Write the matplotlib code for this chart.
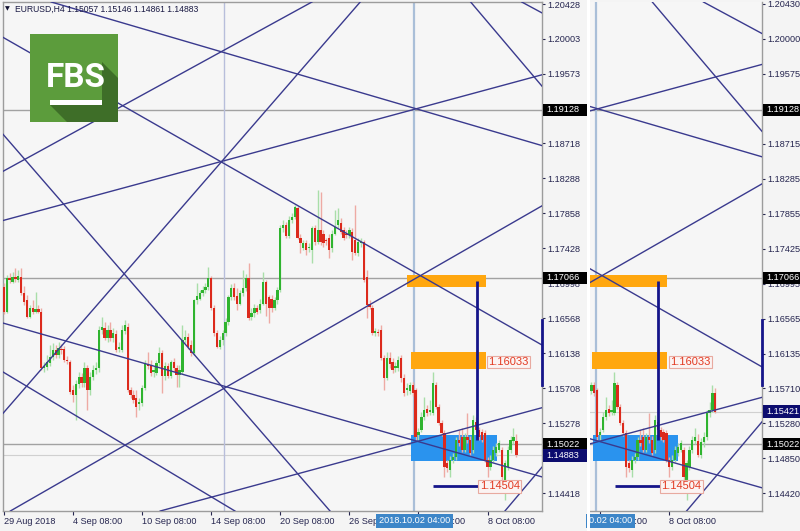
import matplotlib
matplotlib.use("Agg")
import matplotlib.pyplot as plt
import matplotlib.transforms as mtrans
from matplotlib.patches import Rectangle, Polygon
import numpy as np

plt.rcParams["font.family"] = ["Liberation Sans", "DejaVu Sans"]

# ---------------- data (EURUSD H4) ----------------
opens = [
1.1695, 1.1664, 1.1706, 1.1702, 1.1707, 1.1704, 1.1707, 1.1688, 1.1679, 1.1659,
1.1669, 1.1665, 1.1668, 1.1665, 1.1596, 1.1597, 1.1602, 1.1609, 1.1618, 1.1612,
1.1619, 1.1619, 1.1606, 1.1603, 1.1569, 1.1562, 1.1576, 1.1585, 1.1577, 1.1596,
1.1569, 1.1585, 1.1593, 1.1596, 1.1642, 1.1645, 1.1633, 1.1642, 1.1633, 1.1637,
1.1619, 1.1618, 1.1641, 1.1646, 1.1569, 1.1562, 1.1559, 1.1551, 1.1553, 1.1571,
1.1601, 1.1600, 1.1591, 1.1590, 1.1602, 1.1614, 1.1586, 1.1598, 1.1586, 1.1603,
1.1596, 1.1587, 1.1591, 1.1630, 1.1634, 1.1624, 1.1614, 1.1679, 1.1681, 1.1688,
1.1691, 1.1695, 1.1706, 1.1670, 1.1639, 1.1622, 1.1630, 1.1639, 1.1652, 1.1683,
1.1694, 1.1684, 1.1675, 1.1688, 1.1694, 1.1706, 1.1658, 1.1663, 1.1669, 1.1667,
1.1675, 1.1701, 1.1683, 1.1681, 1.1669, 1.1679, 1.1691, 1.1768, 1.1771, 1.1758,
1.1778, 1.1781, 1.1792, 1.1756, 1.1743, 1.1749, 1.1743, 1.1741, 1.1768, 1.1750,
1.1765, 1.1761, 1.1753, 1.1756, 1.1743, 1.1761, 1.1771, 1.1774, 1.1765, 1.1761,
1.1759, 1.1763, 1.1753, 1.1737, 1.1749, 1.1750, 1.1707, 1.1675, 1.1670, 1.1639,
1.1640, 1.1642, 1.1608, 1.1583, 1.1608, 1.1603, 1.1596, 1.1596, 1.1608, 1.1583,
1.1569, 1.1567, 1.1575, 1.1569, 1.1513, 1.1520, 1.1536, 1.1545, 1.1542, 1.1541,
1.1575, 1.1548, 1.1528, 1.1516, 1.1479, 1.1471, 1.1483, 1.1486, 1.1507, 1.1511,
1.1495, 1.1511, 1.1507, 1.1495, 1.1530, 1.1520, 1.1517, 1.1516, 1.1483, 1.1474,
1.1483, 1.1491, 1.1495, 1.1495, 1.1458, 1.1474, 1.1495, 1.1506, 1.15057, 1.1489,
1.1505, 1.1511, 1.1541, 1.1544, 1.1565,
]
highs = [
1.1700, 1.1710, 1.1712, 1.1714, 1.1719, 1.1716, 1.1719, 1.1697, 1.1685, 1.1673,
1.1679, 1.1689, 1.1673, 1.1669, 1.1603, 1.1612, 1.1624, 1.1627, 1.1624, 1.1628,
1.1625, 1.1623, 1.1610, 1.1606, 1.1575, 1.1581, 1.1591, 1.1590, 1.1603, 1.1600,
1.1591, 1.1600, 1.1603, 1.1647, 1.1658, 1.1652, 1.1649, 1.1652, 1.1645, 1.1642,
1.1628, 1.1649, 1.1655, 1.1651, 1.1573, 1.1569, 1.1569, 1.1559, 1.1575, 1.1606,
1.1615, 1.1606, 1.1598, 1.1606, 1.1622, 1.1618, 1.1603, 1.1602, 1.1606, 1.1608,
1.1600, 1.1600, 1.1649, 1.1642, 1.1639, 1.1630, 1.1681, 1.1700, 1.1691, 1.1696,
1.1700, 1.1720, 1.1709, 1.1673, 1.1642, 1.1635, 1.1642, 1.1657, 1.1686, 1.1699,
1.1700, 1.1694, 1.1691, 1.1716, 1.1711, 1.1725, 1.1669, 1.1674, 1.1673, 1.1681,
1.1714, 1.1704, 1.1686, 1.1685, 1.1683, 1.1695, 1.1771, 1.1778, 1.1775, 1.1782,
1.1786, 1.1796, 1.1795, 1.1760, 1.1753, 1.1753, 1.1749, 1.1770, 1.1771, 1.1815,
1.1812, 1.1765, 1.1756, 1.1760, 1.1765, 1.1790, 1.1792, 1.1780, 1.1769, 1.1765,
1.1769, 1.1768, 1.1796, 1.1755, 1.1755, 1.1753, 1.1716, 1.1679, 1.1673, 1.1645,
1.1644, 1.1649, 1.1612, 1.1615, 1.1615, 1.1608, 1.1603, 1.1610, 1.1612, 1.1588,
1.1577, 1.1578, 1.1578, 1.1571, 1.1522, 1.1542, 1.1560, 1.1550, 1.1556, 1.1591,
1.1578, 1.1551, 1.1532, 1.1520, 1.1483, 1.1488, 1.1491, 1.1511, 1.1520, 1.1522,
1.1516, 1.1541, 1.1512, 1.1538, 1.1535, 1.1523, 1.1521, 1.1520, 1.1486, 1.1489,
1.1500, 1.1504, 1.1507, 1.1499, 1.1483, 1.1500, 1.1512, 1.1522, 1.15146, 1.1510,
1.1517, 1.1544, 1.1554, 1.1575, 1.1571,
]
lows = [
1.1662, 1.1663, 1.1700, 1.1700, 1.1701, 1.1701, 1.1685, 1.1673, 1.1657, 1.1657,
1.1662, 1.1663, 1.1663, 1.1593, 1.1591, 1.1593, 1.1598, 1.1606, 1.1608, 1.1608,
1.1613, 1.1603, 1.1601, 1.1564, 1.1554, 1.1532, 1.1571, 1.1573, 1.1573, 1.1544,
1.1562, 1.1581, 1.1588, 1.1591, 1.1637, 1.1630, 1.1628, 1.1629, 1.1628, 1.1615,
1.1615, 1.1615, 1.1637, 1.1566, 1.1559, 1.1553, 1.1536, 1.1544, 1.1549, 1.1569,
1.1595, 1.1586, 1.1585, 1.1587, 1.1598, 1.1565, 1.1581, 1.1583, 1.1583, 1.1591,
1.1572, 1.1573, 1.1588, 1.1627, 1.1619, 1.1610, 1.1612, 1.1674, 1.1679, 1.1684,
1.1688, 1.1691, 1.1667, 1.1635, 1.1620, 1.1619, 1.1624, 1.1635, 1.1649, 1.1679,
1.1679, 1.1667, 1.1673, 1.1684, 1.1690, 1.1655, 1.1655, 1.1659, 1.1662, 1.1663,
1.1673, 1.1660, 1.1651, 1.1665, 1.1667, 1.1675, 1.1689, 1.1763, 1.1755, 1.1755,
1.1774, 1.1779, 1.1754, 1.1737, 1.1741, 1.1735, 1.1738, 1.1725, 1.1747, 1.1748,
1.1747, 1.1745, 1.1747, 1.1731, 1.1738, 1.1759, 1.1768, 1.1760, 1.1753, 1.1755,
1.1755, 1.1728, 1.1735, 1.1733, 1.1745, 1.1701, 1.1657, 1.1668, 1.1636, 1.1635,
1.1635, 1.1606, 1.1569, 1.1581, 1.1596, 1.1590, 1.1591, 1.1592, 1.1578, 1.1561,
1.1562, 1.1564, 1.1561, 1.1507, 1.1507, 1.1517, 1.1532, 1.1537, 1.1538, 1.1538,
1.1545, 1.1526, 1.1512, 1.1462, 1.1468, 1.1462, 1.1479, 1.1483, 1.1500, 1.1493,
1.1493, 1.1504, 1.1489, 1.1491, 1.1517, 1.1507, 1.1505, 1.1480, 1.1462, 1.1471,
1.1480, 1.1488, 1.1493, 1.1458, 1.1434, 1.1471, 1.1491, 1.1502, 1.14861, 1.1485,
1.1499, 1.1507, 1.1535, 1.1542, 1.1541,
]
closes = [
1.1664, 1.1706, 1.1704, 1.1707, 1.1705, 1.1709, 1.1688, 1.1677, 1.1659, 1.1669,
1.1664, 1.1668, 1.1665, 1.1596, 1.1598, 1.1603, 1.1609, 1.1618, 1.1612, 1.1620,
1.1618, 1.1606, 1.1604, 1.1566, 1.1562, 1.1576, 1.1585, 1.1577, 1.1596, 1.1569,
1.1585, 1.1593, 1.1596, 1.1642, 1.1646, 1.1633, 1.1642, 1.1633, 1.1639, 1.1618,
1.1622, 1.1642, 1.1649, 1.1569, 1.1562, 1.1556, 1.1548, 1.1554, 1.1571, 1.1602,
1.1598, 1.1590, 1.1593, 1.1602, 1.1614, 1.1586, 1.1598, 1.1586, 1.1603, 1.1596,
1.1587, 1.1593, 1.1630, 1.1634, 1.1622, 1.1614, 1.1679, 1.1684, 1.1688, 1.1691,
1.1695, 1.1706, 1.1669, 1.1639, 1.1622, 1.1630, 1.1639, 1.1652, 1.1683, 1.1694,
1.1683, 1.1675, 1.1688, 1.1694, 1.1706, 1.1657, 1.1663, 1.1669, 1.1665, 1.1675,
1.1701, 1.1675, 1.1670, 1.1669, 1.1679, 1.1691, 1.1768, 1.1771, 1.1758, 1.1778,
1.1781, 1.1794, 1.1756, 1.1749, 1.1749, 1.1741, 1.1744, 1.1768, 1.1750, 1.1765,
1.1750, 1.1749, 1.1752, 1.1741, 1.1761, 1.1769, 1.1778, 1.1763, 1.1756, 1.1759,
1.1765, 1.1738, 1.1737, 1.1750, 1.1750, 1.1704, 1.1673, 1.1671, 1.1639, 1.1641,
1.1639, 1.1608, 1.1583, 1.1608, 1.1601, 1.1593, 1.1598, 1.1606, 1.1583, 1.1565,
1.1571, 1.1575, 1.1565, 1.1511, 1.1517, 1.1536, 1.1544, 1.1541, 1.1544, 1.1577,
1.1548, 1.1528, 1.1516, 1.1474, 1.1473, 1.1483, 1.1486, 1.1507, 1.1504, 1.1495,
1.1511, 1.1507, 1.1491, 1.1532, 1.1520, 1.1511, 1.1507, 1.1483, 1.1474, 1.1483,
1.1495, 1.1499, 1.1504, 1.1462, 1.1479, 1.1495, 1.1507, 1.1511, 1.14883, 1.1505,
1.1511, 1.1541, 1.1544, 1.1565, 1.15421,
]
n_left = 179          # candles visible in the left (earlier) snapshot

left_ticks = [1.20428, 1.20003, 1.19573, 1.19143, 1.18718, 1.18288, 1.17858, 1.17428,
              1.16998, 1.16568, 1.16138, 1.15708, 1.15278, 1.14848, 1.14418]
right_ticks = [1.20430, 1.20000, 1.19575, 1.19145, 1.18715, 1.18285, 1.17855, 1.17425,
               1.16995, 1.16565, 1.16135, 1.15710, 1.15280, 1.14850, 1.14420]
date_idx = [0, 24, 48, 72, 96, 120, 144, 168]
date_labels = ["29 Aug 2018", "4 Sep 08:00", "10 Sep 08:00", "14 Sep 08:00",
               "20 Sep 08:00", "26 Sep 08:00", "2 Oct 08:00", "8 Oct 08:00"]

h_levels = [1.19128, 1.17066, 1.15022]
bid_left, bid_right = 1.14883, 1.15421
header = "EURUSD,H4 1.15057 1.15146 1.14861 1.14883"

# Gann / trend lines: two anchor points (bar index, price)
gann_lines = [
    ((-1.3, 1.2004), (186.9, 1.1624)),
    ((-1.3, 1.1652), (186.9, 1.1462)),
    ((-1.3, 1.1593), (80.3, 1.1420)),
    ((2.2, 1.1420), (186.9, 1.1795)),
    ((-1.3, 1.1887), (113.3, 1.1420)),
    ((-1.3, 1.1536), (124.4, 1.2048)),
    ((54.2, 1.1420), (186.9, 1.1547)),
    ((174.0, 1.1420), (186.9, 1.1474)),
    ((17.8, 1.2044), (186.9, 1.1869)),
    ((-1.3, 1.1776), (186.9, 1.1956)),
    ((161.5, 1.2048), (186.9, 1.1942)),
    ((178.5, 1.2048), (186.9, 1.2032)),
    ((25.8, 1.1888), (68.1, 1.1970)),
]
orange_boxes = [(140.1, 167.3, 1.1695, 1.1710), (141.3, 167.3, 1.1595, 1.1615)]
blue_box = (141.4, 171.1, 1.1481, 1.1513)
target_v = (164.2, 1.1703, 1.1507)
low_line = (149.1, 164.8, 1.14504)
labels_red = [(168.3, 1.16033, "1.16033"), (165.3, 1.14504, "1.14504")]
vlines_idx = [76.6]
cross_idx = 142.6
edge_seg = (1.1575, 1.1655)

# ---------------- figure ----------------
W, H = 800, 531
fig = plt.figure(figsize=(W / 100, H / 100), dpi=100, facecolor="#f4f4f4")
fx = lambda px: px / W
fy = lambda py: 1 - py / H

YLIM = (1.14201, 1.20454)
PX = (YLIM[1] - YLIM[0]) / 509.0          # price per pixel
axL = fig.add_axes([fx(3), fy(511), fx(539), 509 / H])
axR = fig.add_axes([fx(590), fy(511), fx(172), 509 / H])
fig.patches.append(Rectangle((fx(587), 0), fx(3), 1, transform=fig.transFigure,
                             fc="white", ec="none", zorder=0))

BULL, BEAR = "#2fb42f", "#dc2a1c"
BULL_W, BEAR_W = "#a9dea9", "#eeaaa4"
LINE = "#3a3a8e"
TXT = "#262650"
FS = 6.6

o = np.array(opens); h = np.array(highs); l = np.array(lows); c = np.array(closes)


def draw(ax, nbars, xlim, ticks, date_sel, bid):
    ax.set_facecolor("#f6f6f6")
    ax.set_xlim(*xlim)
    ax.set_ylim(*YLIM)
    idx = np.arange(nbars)
    up = c[:nbars] >= o[:nbars]
    ax.vlines(idx, l[:nbars], h[:nbars], colors=np.where(up, BULL_W, BEAR_W), lw=1, zorder=4)
    bottoms = np.minimum(o[:nbars], c[:nbars])
    heights = np.maximum(np.abs(c[:nbars] - o[:nbars]), 0.00008)
    ax.bar(idx, heights, bottom=bottoms, width=0.8, color=np.where(up, BULL, BEAR),
           lw=0, zorder=5)
    for lv in h_levels:
        ax.axhline(lv, color="#a2a2a2", lw=1, zorder=2)
    ax.axhline(bid, color="#d0d0d0", lw=0.8, zorder=2)
    for vx in vlines_idx:
        ax.axvline(vx, color="#b8bedb", lw=1, zorder=2)
    ax.axvline(cross_idx, color="#aabfd8", lw=1.6, zorder=2)
    for p1, p2 in gann_lines:
        ax.axline(p1, p2, color=LINE, lw=1, zorder=6)
    for x0, x1, y0, y1 in orange_boxes:
        ax.add_patch(Rectangle((x0, y0), x1 - x0, y1 - y0, fc="#ffa70f", ec="none", zorder=3))
    bx0, bx1, by0, by1 = blue_box
    ax.add_patch(Rectangle((bx0, by0), bx1 - bx0, by1 - by0, fc="#2a93ee", ec="none", zorder=3))
    ax.vlines(target_v[0], target_v[2], target_v[1], color="#15158a", lw=2, zorder=7)
    ax.hlines(low_line[2], low_line[0], low_line[1], color="#15158a", lw=2, zorder=7)
    for xi, pr, t in labels_red:
        ax.text(xi, pr, t, fontsize=8, color="#e23a22", ha="left", va="center", zorder=8,
                bbox=dict(boxstyle="square,pad=0.12", fc="#fbf3f2", ec="#e8aaa0", lw=0.8))
    trY = mtrans.blended_transform_factory(ax.transAxes, ax.transData)
    ax.plot([1.0, 1.0], edge_seg, color="#15158a", lw=2, transform=trY, zorder=9, clip_on=False)
    # axes
    ax.yaxis.tick_right()
    ax.set_yticks(ticks)
    ax.set_yticklabels([f"{t:.5f}" for t in ticks])
    ax.tick_params(axis="y", length=2.5, pad=1.5, labelsize=FS, colors=TXT, direction="out")
    ax.set_xticks([date_idx[k] for k in date_sel])
    ax.set_xticklabels([date_labels[k] for k in date_sel], ha="left")
    ax.tick_params(axis="x", length=3, pad=1.5, labelsize=FS, colors=TXT, direction="out")
    for s in ax.spines.values():
        s.set_color("#9c9c9c")
        s.set_linewidth(1)


draw(axL, n_left, (-0.3, 186.9), left_ticks, range(8), bid_left)
draw(axR, len(closes), (140.5, 200.2), right_ticks, [6, 7], bid_right)
axR.spines["left"].set_visible(False)
axR.spines["top"].set_visible(False)


def tag(ax, price, text, fc, width_px, ax_px):
    tr = mtrans.blended_transform_factory(ax.transAxes, ax.transData)
    ax.add_patch(Rectangle((1.0 + 1.0 / ax_px, price - 6.2 * PX), width_px / ax_px, 12.4 * PX,
                           transform=tr, fc=fc, ec="none", zorder=19, clip_on=False))
    ax.text(1.0 + 4.0 / ax_px, price, text, transform=tr, ha="left", va="center",
            fontsize=FS, color="white", zorder=20, clip_on=False)


for ax, wpx, apx in ((axL, 45, 539), (axR, 38, 172)):
    for lv in h_levels:
        tag(ax, lv, f"{lv:.5f}", "black", wpx, apx)
tag(axL, bid_left, f"{bid_left:.5f}", "#0c0c6e", 45, 539)
tag(axR, bid_right, f"{bid_right:.5f}", "#0c0c6e", 38, 172)

# crosshair date boxes
trXL = mtrans.blended_transform_factory(axL.transData, axL.transAxes)
axL.text(cross_idx, -0.0196, "2018.10.02 04:00", transform=trXL, ha="center", va="center",
         fontsize=FS, color="white", zorder=20, clip_on=False,
         bbox=dict(boxstyle="square,pad=0.3", fc="#3d86c8", ec="none"))
trXR = mtrans.blended_transform_factory(axR.transData, axR.transAxes)
axR.text(140.2, -0.0196, "0.02 04:00", transform=trXR, ha="left", va="center",
         fontsize=FS, color="white", zorder=20, clip_on=False,
         bbox=dict(boxstyle="square,pad=0.3", fc="#3d86c8", ec="none"))

# header
fig.text(fx(5), fy(9), "\u25BC", fontsize=4.5, color="#101030", va="center",
         family="DejaVu Sans")
fig.text(fx(15), fy(9), header, fontsize=6.2, color="#1a1a44", va="center")

# FBS logo
axLogo = fig.add_axes([fx(30), fy(122), fx(88), 88 / H])
axLogo.set_xlim(0, 88)
axLogo.set_ylim(0, 88)
axLogo.axis("off")
axLogo.add_patch(Rectangle((0, 0), 88, 88, fc="#5c9c3c", ec="none"))
axLogo.add_patch(Polygon([(20, 22), (20, 17), (37, 0), (88, 0), (88, 44), (72, 60), (72, 22)],
                         closed=True, fc="#3e6e28", ec="none"))
axLogo.text(46, 44, "FBS", ha="center", va="center", color="white", fontsize=24,
            fontweight="bold", family=["Liberation Sans Narrow", "Roboto", "DejaVu Sans"])
axLogo.add_patch(Rectangle((20, 17), 52, 5, fc="white", ec="none"))

fig.savefig("out.png", dpi=100, facecolor=fig.get_facecolor())
